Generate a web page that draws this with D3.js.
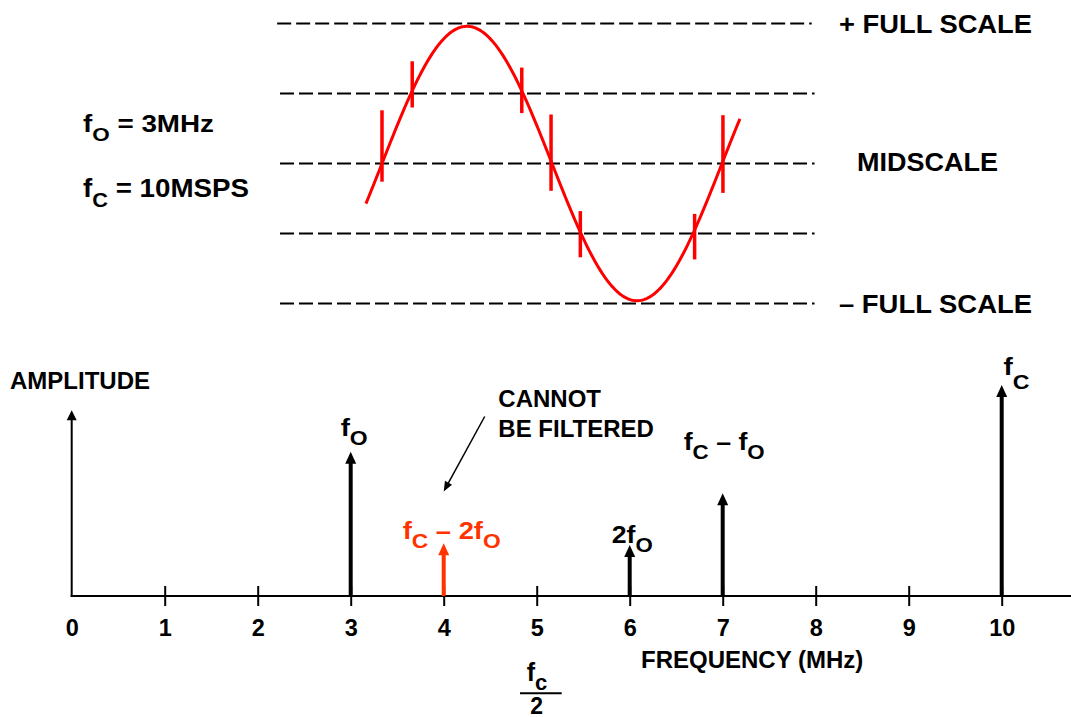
<!DOCTYPE html>
<meta charset="utf-8">

<head>
    <title>Sampling a 3MHz signal at 10MSPS</title>
    <script src="https://cdn.jsdelivr.net/npm/d3@7"></script>
    <style>
        body {
            margin: 0;
            background-color: white;
        }

        svg text {
            font-family: "Liberation Sans", Arial, Helvetica, sans-serif;
            font-weight: bold;
            white-space: pre;
        }
    </style>
</head>

<body>
    <svg id="svg"></svg>

    <script>
        // ---- data: top panel (quantisation levels + sine) ----
        const levels = [2, 1, 0, -1, -2]
        const levelNames = ['+ FULL SCALE', '', 'MIDSCALE', '', '– FULL SCALE']
        const sineAmp = 1.96                 // in levels
        const sineStart = -17                // phase, degrees
        const sineEnd = 379
        const markPhase = [0, 32, 148, 179, 210, 331, 361]
        const markTop = [0.76, 1.46, 1.37, 0.70, -0.68, -0.72, 0.69]
        const markBottom = [-0.26, 0.80, 0.72, -0.39, -1.34, -1.37, -0.42]

        // ---- data: bottom panel (spectrum) ----
        const freqTicks = [0, 1, 2, 3, 4, 5, 6, 7, 8, 9, 10]
        const lineFreq = [3, 4, 6, 7, 10]
        const lineAmp = [0.684, 0.25, 0.242, 0.487, 1.0]
        const lineLabel = ['f_O', 'f_C – 2f_O', '2f_O', 'f_C – f_O', 'f_C']
        const lineAlias = [false, true, false, false, false]
        const ampAxisTop = 0.88

        const width = 1071
        const height = 717
        const red = '#ff0000'
        const alias = '#ff3300'

        let svg = d3.select('#svg')
            .attr('width', width)
            .attr('height', height)
            .style('display', 'block')

        // scales
        let xPhase = d3.scaleLinear().domain([0, 360]).range([382, 722])
        let yLevel = d3.scaleLinear().domain([-2, 2]).range([303.5, 23.5])
        let xFreq = d3.scaleLinear().domain([0, 10]).range([71.7, 1001.7])
        let yAmp = d3.scaleLinear().domain([0, 1]).range([596, 385])

        // text with "_X" meaning subscript X
        function rich(g, str, size, subSize, subDy) {
            let t = g.append('text').style('font-size', size + 'px')
            let parts = str.split(/_(\w)/)
            parts.forEach((p, i) => {
                if (!p) return
                let sub = i % 2 == 1
                t.append('tspan').text(p)
                    .style('font-size', (sub ? subSize : size) + 'px')
                    .attr('dy', sub ? subDy : (i > 0 ? -subDy : 0))
            })
            return t
        }

        function fit(t, len) {
            return t.attr('textLength', len).attr('lengthAdjust', 'spacingAndGlyphs')
        }

        function arrow(g, x1, y1, x2, y2, w, headLen, headHalf, color) {
            let dx = x2 - x1, dy = y2 - y1
            let L = Math.hypot(dx, dy)
            let ux = dx / L, uy = dy / L
            let bx = x2 - ux * headLen, by = y2 - uy * headLen
            g.append('line')
                .attr('x1', x1).attr('y1', y1)
                .attr('x2', bx + ux).attr('y2', by + uy)
                .attr('stroke', color).attr('stroke-width', w)
            g.append('path')
                .attr('d', 'M' + x2 + ',' + y2 +
                    'L' + (bx - uy * headHalf) + ',' + (by + ux * headHalf) +
                    'L' + (bx + uy * headHalf) + ',' + (by - ux * headHalf) + 'Z')
                .attr('fill', color)
        }

        // ================= top panel =================
        let topG = svg.append('g')

        topG.selectAll('.level')
            .data(levels)
            .enter()
            .append('line')
            .attr('class', 'level')
            .attr('x1', d => xPhase(d == 2 ? -111 : -108))
            .attr('x2', d => xPhase(d == 2 ? 455 : 458))
            .attr('y1', d => yLevel(d))
            .attr('y2', d => yLevel(d))
            .attr('stroke', 'black')
            .attr('stroke-width', 2)
            .attr('stroke-dasharray', '14,5')

        topG.selectAll('.levelName')
            .data(levels.filter((d, i) => levelNames[i]))
            .enter()
            .append('text')
            .attr('class', 'levelName')
            .attr('x', d => d == 0 ? 857 : 839)
            .attr('y', d => yLevel(d) + (d == 0 ? 7.5 : 9.8))
            .style('font-size', d => d == 0 ? '26.5px' : '25.5px')
            .attr('textLength', d => d == 0 ? 141 : 193)
            .attr('lengthAdjust', 'spacingAndGlyphs')
            .text(d => levelNames[levels.indexOf(d)])

        let sinePts = d3.range(sineStart, sineEnd + 0.5, 1)
        let sineLine = d3.line()
            .x(p => xPhase(p))
            .y(p => yLevel(sineAmp * Math.sin(p * Math.PI / 180)))

        topG.append('path')
            .datum(sinePts)
            .attr('d', sineLine)
            .attr('fill', 'none')
            .attr('stroke', red)
            .attr('stroke-width', 3)

        topG.selectAll('.mark')
            .data(markPhase)
            .enter()
            .append('line')
            .attr('class', 'mark')
            .attr('x1', d => xPhase(d))
            .attr('x2', d => xPhase(d))
            .attr('y1', (d, i) => yLevel(markTop[i]))
            .attr('y2', (d, i) => yLevel(markBottom[i]))
            .attr('stroke', red)
            .attr('stroke-width', 3.5)

        fit(rich(topG, 'f_O = 3MHz', 23.5, 19, 9).attr('x', 83).attr('y', 132.3), 131)
        fit(rich(topG, 'f_C = 10MSPS', 25.5, 20, 10).attr('x', 83).attr('y', 196.7), 166)

        // ================= bottom panel =================
        let spec = svg.append('g')

        // frequency axis
        let xAxis = d3.axisBottom(xFreq)
            .tickValues(freqTicks)
            .tickSize(10)
            .tickFormat(d3.format('d'))

        let axisG = spec.append('g')
            .attr('transform', 'translate(0,' + yAmp(0) + ')')
            .call(xAxis)
            .attr('font-size', null)
            .attr('font-family', null)

        axisG.select('.domain').remove()
        axisG.selectAll('.tick line')
            .attr('y1', -10)
            .attr('y2', 10)
            .attr('stroke-width', 2)
            .attr('stroke', d => d == 0 ? 'none' : 'black')
        axisG.selectAll('.tick text')
            .attr('y', 39.5)
            .attr('dy', null)
            .attr('fill', 'black')
            .style('font-size', '23.5px')

        spec.append('line')
            .attr('x1', xFreq(0) - 1)
            .attr('x2', width)
            .attr('y1', yAmp(0))
            .attr('y2', yAmp(0))
            .attr('stroke', 'black')
            .attr('stroke-width', 2)

        // amplitude axis
        arrow(spec, xFreq(0), yAmp(0) + 1, xFreq(0), yAmp(ampAxisTop), 2, 10, 5, 'black')

        spec.append('text')
            .attr('x', 10)
            .attr('y', 389.3)
            .style('font-size', '24px')
            .text('AMPLITUDE')

        // spectral lines
        lineFreq.forEach((f, i) => {
            let c = lineAlias[i] ? alias : 'black'
            arrow(spec, xFreq(f), yAmp(0), xFreq(f), yAmp(lineAmp[i]), 4, 12, 5.5, c)
        })

        // labels placed relative to each arrow tip: [dx, dy, width]
        const labelLayout = [[-10, -16, 27], [-41, -4, 98], [-18, -2, 41], [-39, -43, 81], [1.7, -10, 26]]
        lineFreq.forEach((f, i) => {
            let sd = f == 10 ? 14 : 9
            let t = rich(spec, lineLabel[i], 24, 20, sd)
                .attr('x', xFreq(f) + labelLayout[i][0])
                .attr('y', yAmp(lineAmp[i]) + labelLayout[i][1])
                .attr('fill', lineAlias[i] ? alias : 'black')
            fit(t, labelLayout[i][2])
        })

        // note pointing at the alias
        let note = spec.append('text')
            .attr('x', 498.3)
            .attr('y', 407.3)
            .style('font-size', '24px')
        note.append('tspan').attr('x', 498.3).text('CANNOT')
        note.append('tspan').attr('x', 498.3).attr('dy', 29.4).text('BE FILTERED')

        arrow(spec, xFreq(4) + 41, 416.5, xFreq(4), 491.5, 1.5, 10, 4, 'black')

        // axis title
        spec.append('text')
            .attr('x', xFreq(6) + 11.3)
            .attr('y', 668.3)
            .style('font-size', '24px')
            .text('FREQUENCY (MHz)')

        // fc / 2 marker under 5
        let half = spec.append('g')
        rich(half, 'f_c', 25, 22, 9).attr('x', xFreq(5) - 10).attr('y', 681)
        half.append('line')
            .attr('x1', xFreq(5) - 16.7)
            .attr('x2', xFreq(5) + 25)
            .attr('y1', 693.3)
            .attr('y2', 693.3)
            .attr('stroke', 'black')
            .attr('stroke-width', 2)
        half.append('text')
            .attr('x', xFreq(5))
            .attr('y', 714)
            .attr('text-anchor', 'middle')
            .style('font-size', '23px')
            .text('2')
    </script>

</body>

</html>
